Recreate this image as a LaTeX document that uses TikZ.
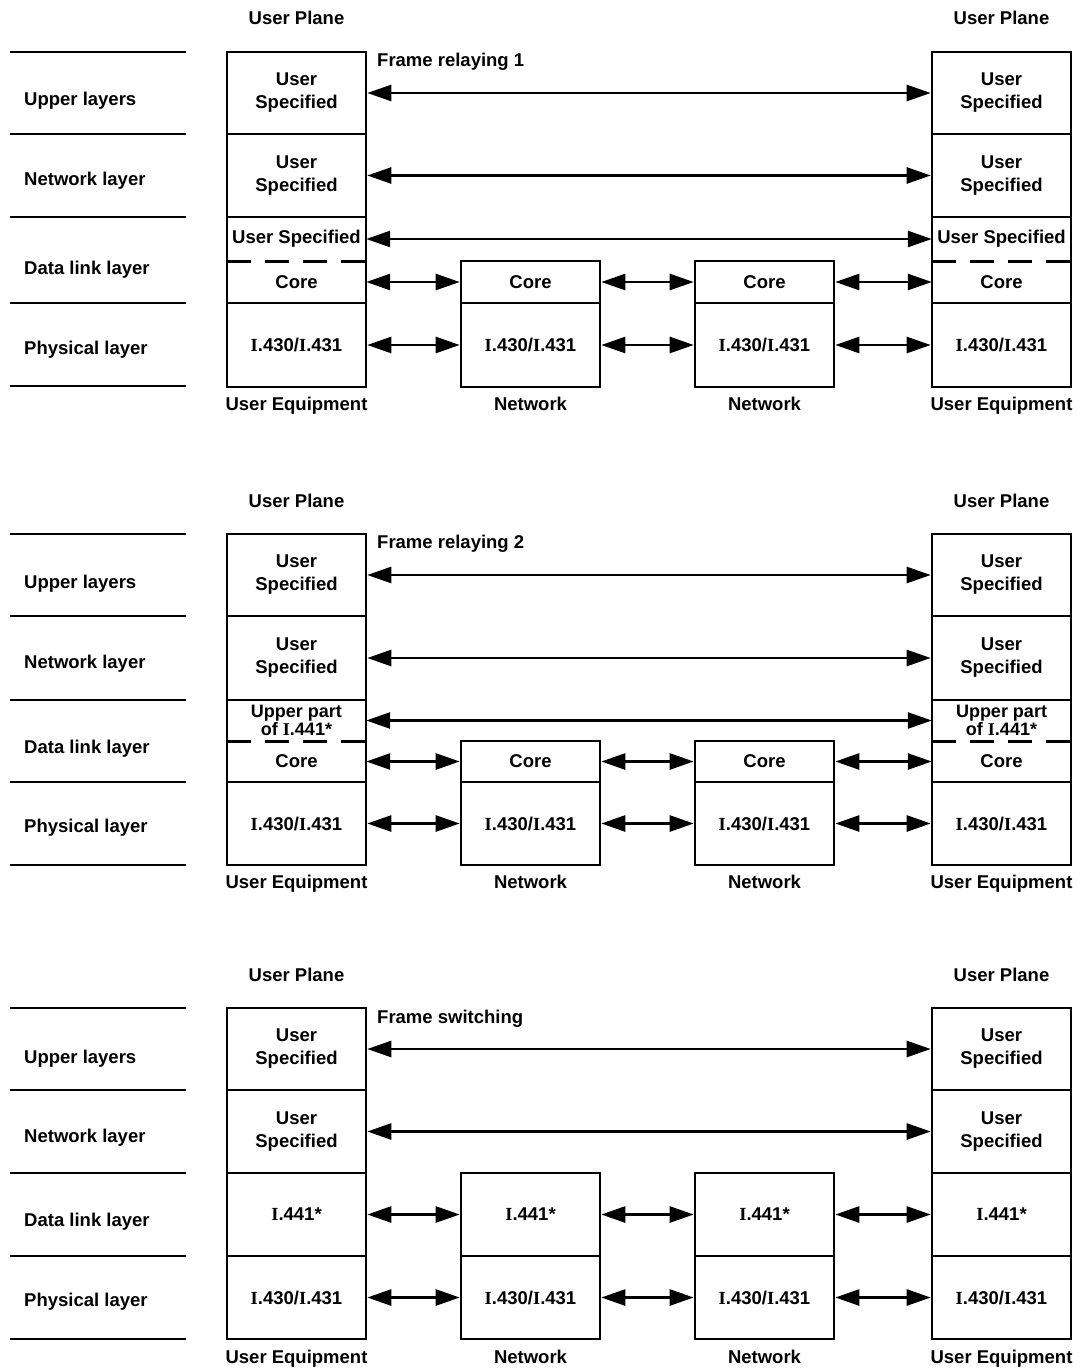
\documentclass[tikz,border=0pt]{standalone}
\usepackage{fontspec}
\setmainfont{Liberation Sans}
\newfontfamily\serI{Liberation Serif}
\newcommand{\SI}{{\serI I}}
\usetikzlibrary{arrows.meta}
\begin{document}
\begin{tikzpicture}[x=1pt,y=-1pt,
  txt/.style={font=\fontsize{18.5}{23}\selectfont\bfseries, inner sep=0pt},
  cell/.style={draw, line width=2.6pt, txt, align=center, minimum width=139pt},
  blank/.style={txt, align=center, minimum width=139pt},
  rule/.style={line width=2.6pt},
  dashrule/.style={line width=2.6pt, dash pattern=on 24pt off 14pt},
  link/.style={line width=2.6pt, {Triangle[length=24pt,width=16pt]}-{Triangle[length=24pt,width=16pt]}},
  lbl/.style={txt, anchor=base},
  lay/.style={txt, anchor=base west}
]
\useasboundingbox[fill=white] (0,0) rectangle (1084,1370);

% ================= Panel 1 =================
\foreach \y in {52,134,217,303,386} \draw[rule] (10,\y) -- (186,\y);
\node[lay] (p1l1) at (24,106) {Upper layers};
\node[lay] (p1l2) at (24,185) {Network layer};
\node[lay] (p1l3) at (24,274) {Data link layer};
\node[lay] (p1l4) at (24,354) {Physical layer};
\node[lbl] (p1t1) at (296.5,25) {User Plane};
\node[lbl] (p1t2) at (1001.5,25) {User Plane};
\node[txt, anchor=base west] (p1f) at (377,67) {Frame relaying 1};
% left UE
\node[cell, minimum height=82pt] (p1u1) at (296.5,93) {User\\Specified};
\node[cell, minimum height=83pt] (p1u2) at (296.5,175.5) {User\\Specified};
\node[cell, minimum height=86pt] (p1dl) at (296.5,260) {};
\node[blank, minimum height=44pt] (p1us) at (296.5,239) {User Specified};
\node[blank, minimum height=42pt] (p1c) at (296.5,282) {Core};
\draw[dashrule] (p1us.south west) -- (p1us.south east);
\node[cell, minimum height=84pt] (p1ph) at (296.5,345) {\SI.430/\SI.431};
% right UE
\node[cell, minimum height=82pt] (p1ru1) at (1001.5,93) {User\\Specified};
\node[cell, minimum height=83pt] (p1ru2) at (1001.5,175.5) {User\\Specified};
\node[cell, minimum height=86pt] (p1rdl) at (1001.5,260) {};
\node[blank, minimum height=44pt] (p1rus) at (1001.5,239) {User Specified};
\node[blank, minimum height=42pt] (p1rc) at (1001.5,282) {Core};
\draw[dashrule] (p1rus.south west) -- (p1rus.south east);
\node[cell, minimum height=84pt] (p1rph) at (1001.5,345) {\SI.430/\SI.431};
% networks
\node[cell, minimum height=42pt] (p1ac) at (530.5,282) {Core};
\node[cell, minimum height=84pt] (p1ap) at (530.5,345) {\SI.430/\SI.431};
\node[cell, minimum height=42pt] (p1bc) at (764.5,282) {Core};
\node[cell, minimum height=84pt] (p1bp) at (764.5,345) {\SI.430/\SI.431};
% bottom labels
\node[lbl] (p1e1) at (296.5,410) {User Equipment};
\node[lbl] (p1e2) at (530.5,410) {Network};
\node[lbl] (p1e3) at (764.5,410) {Network};
\node[lbl] (p1e4) at (1001.5,410) {User Equipment};
% arrows
\draw[link] (p1u1.east) -- (p1ru1.west);
\draw[link] (p1u2.east) -- (p1ru2.west);
\draw[link] (p1us.east) -- (p1rus.west);
\draw[link] (p1c.east) -- (p1ac.west);
\draw[link] (p1ac.east) -- (p1bc.west);
\draw[link] (p1bc.east) -- (p1rc.west);
\draw[link] (p1ph.east) -- (p1ap.west);
\draw[link] (p1ap.east) -- (p1bp.west);
\draw[link] (p1bp.east) -- (p1rph.west);

% ================= Panel 2 =================
\foreach \y in {534,616,700,782,865} \draw[rule] (10,\y) -- (186,\y);
\node[lay] (p2l1) at (24,588) {Upper layers};
\node[lay] (p2l2) at (24,668) {Network layer};
\node[lay] (p2l3) at (24,753) {Data link layer};
\node[lay] (p2l4) at (24,832) {Physical layer};
\node[lbl] (p2t1) at (296.5,507) {User Plane};
\node[lbl] (p2t2) at (1001.5,507) {User Plane};
\node[txt, anchor=base west] (p2f) at (377,548) {Frame relaying 2};
% left UE
\node[cell, minimum height=82pt] (p2u1) at (296.5,575) {User\\Specified};
\node[cell, minimum height=84pt] (p2u2) at (296.5,658) {User\\Specified};
\node[cell, minimum height=82pt] (p2dl) at (296.5,741) {};
\node[blank, minimum height=41pt, font=\fontsize{18}{16.5}\selectfont\bfseries] (p2us) at (296.5,720.5) {Upper part\\of \SI.441*};
\node[blank, minimum height=41pt] (p2c) at (296.5,761.5) {Core};
\draw[dashrule] (p2us.south west) -- (p2us.south east);
\node[cell, minimum height=83pt] (p2ph) at (296.5,823.5) {\SI.430/\SI.431};
% right UE
\node[cell, minimum height=82pt] (p2ru1) at (1001.5,575) {User\\Specified};
\node[cell, minimum height=84pt] (p2ru2) at (1001.5,658) {User\\Specified};
\node[cell, minimum height=82pt] (p2rdl) at (1001.5,741) {};
\node[blank, minimum height=41pt, font=\fontsize{18}{16.5}\selectfont\bfseries] (p2rus) at (1001.5,720.5) {Upper part\\of \SI.441*};
\node[blank, minimum height=41pt] (p2rc) at (1001.5,761.5) {Core};
\draw[dashrule] (p2rus.south west) -- (p2rus.south east);
\node[cell, minimum height=83pt] (p2rph) at (1001.5,823.5) {\SI.430/\SI.431};
% networks
\node[cell, minimum height=41pt] (p2ac) at (530.5,761.5) {Core};
\node[cell, minimum height=83pt] (p2ap) at (530.5,823.5) {\SI.430/\SI.431};
\node[cell, minimum height=41pt] (p2bc) at (764.5,761.5) {Core};
\node[cell, minimum height=83pt] (p2bp) at (764.5,823.5) {\SI.430/\SI.431};
% bottom labels
\node[lbl] (p2e1) at (296.5,888) {User Equipment};
\node[lbl] (p2e2) at (530.5,888) {Network};
\node[lbl] (p2e3) at (764.5,888) {Network};
\node[lbl] (p2e4) at (1001.5,888) {User Equipment};
% arrows
\draw[link] (p2u1.east) -- (p2ru1.west);
\draw[link] (p2u2.east) -- (p2ru2.west);
\draw[link] (p2us.east) -- (p2rus.west);
\draw[link] (p2c.east) -- (p2ac.west);
\draw[link] (p2ac.east) -- (p2bc.west);
\draw[link] (p2bc.east) -- (p2rc.west);
\draw[link] (p2ph.east) -- (p2ap.west);
\draw[link] (p2ap.east) -- (p2bp.west);
\draw[link] (p2bp.east) -- (p2rph.west);

% ================= Panel 3 =================
\foreach \y in {1008,1090,1173,1256,1339} \draw[rule] (10,\y) -- (186,\y);
\node[lay] (p3l1) at (24,1063) {Upper layers};
\node[lay] (p3l2) at (24,1142) {Network layer};
\node[lay] (p3l3) at (24,1226) {Data link layer};
\node[lay] (p3l4) at (24,1306) {Physical layer};
\node[lbl] (p3t1) at (296.5,981) {User Plane};
\node[lbl] (p3t2) at (1001.5,981) {User Plane};
\node[txt, anchor=base west] (p3f) at (377,1023) {Frame switching};
% left UE
\node[cell, minimum height=82pt] (p3u1) at (296.5,1049) {User\\Specified};
\node[cell, minimum height=83pt] (p3u2) at (296.5,1131.5) {User\\Specified};
\node[cell, minimum height=83pt] (p3dl) at (296.5,1214.5) {\SI.441*};
\node[cell, minimum height=83pt] (p3ph) at (296.5,1297.5) {\SI.430/\SI.431};
% right UE
\node[cell, minimum height=82pt] (p3ru1) at (1001.5,1049) {User\\Specified};
\node[cell, minimum height=83pt] (p3ru2) at (1001.5,1131.5) {User\\Specified};
\node[cell, minimum height=83pt] (p3rdl) at (1001.5,1214.5) {\SI.441*};
\node[cell, minimum height=83pt] (p3rph) at (1001.5,1297.5) {\SI.430/\SI.431};
% networks
\node[cell, minimum height=83pt] (p3ad) at (530.5,1214.5) {\SI.441*};
\node[cell, minimum height=83pt] (p3ap) at (530.5,1297.5) {\SI.430/\SI.431};
\node[cell, minimum height=83pt] (p3bd) at (764.5,1214.5) {\SI.441*};
\node[cell, minimum height=83pt] (p3bp) at (764.5,1297.5) {\SI.430/\SI.431};
% bottom labels
\node[lbl] (p3e1) at (296.5,1363) {User Equipment};
\node[lbl] (p3e2) at (530.5,1363) {Network};
\node[lbl] (p3e3) at (764.5,1363) {Network};
\node[lbl] (p3e4) at (1001.5,1363) {User Equipment};
% arrows
\draw[link] (p3u1.east) -- (p3ru1.west);
\draw[link] (p3u2.east) -- (p3ru2.west);
\draw[link] (p3dl.east) -- (p3ad.west);
\draw[link] (p3ad.east) -- (p3bd.west);
\draw[link] (p3bd.east) -- (p3rdl.west);
\draw[link] (p3ph.east) -- (p3ap.west);
\draw[link] (p3ap.east) -- (p3bp.west);
\draw[link] (p3bp.east) -- (p3rph.west);
\end{tikzpicture}
\end{document}
